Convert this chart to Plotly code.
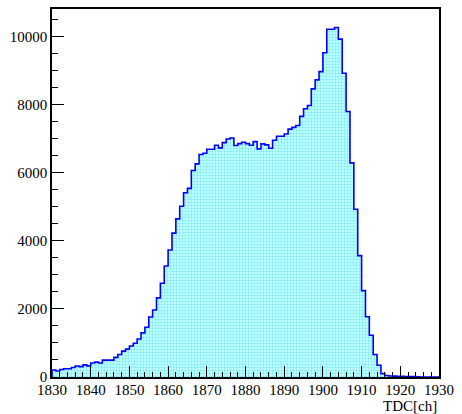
import plotly.graph_objects as go

# Histogram: TDC channel bins (1 channel wide), 1830..1929
bin_start = 1830
counts = [
    205, 175, 220, 243, 243, 277, 325, 305, 355, 328,
    413, 438, 410, 497, 497, 497, 575, 662, 760, 818,
    910, 990, 1115, 1295, 1460, 1762, 1967, 2323, 2755, 3262,
    3730, 4226, 4645, 5015, 5414, 5541, 6067, 6261, 6535, 6573,
    6690, 6690, 6807, 6729, 6885, 6992, 7021, 6798, 6856, 6895,
    6856, 6807, 6914, 6700, 6846, 6817, 6720, 6953, 7070, 7070,
    7138, 7280, 7333, 7385, 7654, 7878, 7976, 8463, 8726, 8969,
    9524, 10216, 10216, 10264, 9924, 8920, 7800, 6290, 4928, 3564,
    2537, 1768, 1227, 663, 345, 100, 45, 30, 25, 20,
    20, 15, 15, 10, 5, 0, 0, 0, 0, 0,
]
x_ticks = list(range(1830, 1931, 10))
y_ticks = [0, 2000, 4000, 6000, 8000, 10000]
x_title = "TDC[ch]"

centers = [bin_start + i + 0.5 for i in range(len(counts))]
edges = [bin_start] + [bin_start + i for i in range(len(counts) + 1)]
step_y = [0] + counts + [counts[-1]]

fig = go.Figure()
fig.add_trace(go.Bar(
    x=centers, y=counts, width=1.0,
    marker=dict(
        color="#d8ffff",
        line=dict(width=0),
        pattern=dict(shape=".", fgcolor="#22dfee", size=3, solidity=0.5),
    ),
    hoverinfo="skip", showlegend=False,
))
fig.add_trace(go.Scatter(
    x=edges, y=step_y, mode="lines", line=dict(color="#0000ff", width=1.6, shape="hv"),
    hoverinfo="skip", showlegend=False,
))

FAM = "'Liberation Serif', 'DejaVu Serif', serif"
font = dict(family=FAM, size=15, color="#000000")
fig.update_layout(
    width=462, height=414,
    margin=dict(l=52, r=23, t=7, b=37),
    paper_bgcolor="white", plot_bgcolor="white",
    bargap=0,
    font=font,
    xaxis=dict(
        range=[1830, 1930], tickvals=x_ticks, ticktext=[str(v) for v in x_ticks],
        ticks="inside", ticklen=11, tickwidth=1, tickcolor="black",
        minor=dict(dtick=2, tick0=1830, ticks="inside", ticklen=5, tickcolor="black", tickwidth=1),
        showline=True, linecolor="black", linewidth=1.5, mirror=True,
        showgrid=False, zeroline=False, tickfont=font, ticklabelstandoff=-2,
    ),
    yaxis=dict(
        range=[0, 10809], tickvals=y_ticks, ticktext=[str(v) for v in y_ticks],
        ticks="inside", ticklen=12, tickwidth=1, tickcolor="black",
        minor=dict(dtick=500, tick0=0, ticks="inside", ticklen=6, tickcolor="black", tickwidth=1),
        showline=True, linecolor="black", linewidth=1.5, mirror=True,
        showgrid=False, zeroline=False, tickfont=font,
    ),
    annotations=[dict(
        text=x_title, xref="paper", yref="paper", x=1, y=0,
        xanchor="right", yanchor="middle", yshift=-29, showarrow=False,
        font=dict(family=FAM, size=15, color="#000000"),
    )],
)

fig.write_html("out.html")
